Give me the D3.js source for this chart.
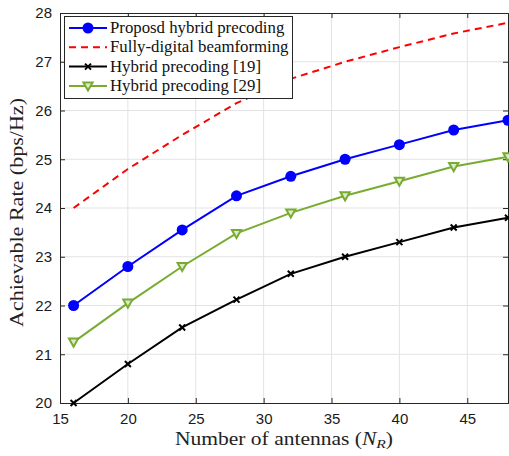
<!DOCTYPE html>
<html>
<head>
<meta charset="utf-8">
<script src="https://cdn.jsdelivr.net/npm/d3@7"></script>
<style>
  html, body { margin: 0; padding: 0; background: #fff; }
  svg { display: block; }
</style>
</head>
<body>
<svg id="chart" width="509" height="456"></svg>
<script>
// Antenna counts on the x axis
const antennas = [16, 20, 24, 28, 32, 36, 40, 44, 48];

// Achievable rate (bps/Hz) per scheme
const proposedRate = [22.0, 22.8, 23.55, 24.25, 24.65, 25.0, 25.3, 25.6, 25.8];
const fullyDigitalRate = [24.0, 24.8, 25.5, 26.15, 26.65, 27.0, 27.3, 27.58, 27.8];
const hybrid19Rate = [20.0, 20.8, 21.55, 22.12, 22.65, 23.0, 23.3, 23.6, 23.8];
const hybrid29Rate = [21.25, 22.05, 22.8, 23.48, 23.9, 24.25, 24.55, 24.85, 25.05];

const seriesNames = [
  "Proposd hybrid precoding",
  "Fully-digital beamforming",
  "Hybrid precoding [19]",
  "Hybrid precoding [29]"
];

const xTicks = [15, 20, 25, 30, 35, 40, 45];
const yTicks = [20, 21, 22, 23, 24, 25, 26, 27, 28];

const series = [
  { name: seriesNames[0], values: proposedRate, color: "#0000ff", marker: "circle" },
  { name: seriesNames[1], values: fullyDigitalRate, color: "#ff0000", marker: "none", dash: "7,5" },
  { name: seriesNames[2], values: hybrid19Rate, color: "#000000", marker: "cross" },
  { name: seriesNames[3], values: hybrid29Rate, color: "#77ac30", marker: "triangle" }
];

const svg = d3.select("#chart");
const plot = { left: 60, right: 508, top: 13, bottom: 403 };

const x = d3.scaleLinear().domain([15, 48]).range([plot.left, plot.right]);
const y = d3.scaleLinear().domain([20, 28]).range([plot.bottom, plot.top]);

const axisColor = "#262626";
const sansFont = "'Liberation Sans', Arial, sans-serif";
const serifFont = "'Liberation Serif', 'Times New Roman', serif";

// Grid
const grid = svg.append("g");
grid.selectAll("line.gx").data(xTicks.filter(d => d > 15)).enter().append("line")
  .attr("x1", d => x(d)).attr("x2", d => x(d))
  .attr("y1", plot.top).attr("y2", plot.bottom)
  .attr("stroke", "#e3e3e3").attr("stroke-width", 1);
grid.selectAll("line.gy").data(yTicks.filter(d => d > 20 && d < 28)).enter().append("line")
  .attr("x1", plot.left).attr("x2", plot.right)
  .attr("y1", d => y(d)).attr("y2", d => y(d))
  .attr("stroke", "#e3e3e3").attr("stroke-width", 1);

// Axes (inward ticks on all four sides)
const tickLen = 5;
const bottomAxis = svg.append("g").attr("transform", `translate(0,${plot.bottom})`)
  .call(d3.axisBottom(x).tickValues(xTicks).tickSize(-tickLen).tickPadding(10));
const topAxis = svg.append("g").attr("transform", `translate(0,${plot.top})`)
  .call(d3.axisTop(x).tickValues(xTicks).tickSize(-tickLen).tickFormat(""));
const leftAxis = svg.append("g").attr("transform", `translate(${plot.left},0)`)
  .call(d3.axisLeft(y).tickValues(yTicks).tickSize(-tickLen).tickPadding(8));
const rightAxis = svg.append("g").attr("transform", `translate(${plot.right},0)`)
  .call(d3.axisRight(y).tickValues(yTicks).tickSize(-tickLen).tickFormat(""));

[bottomAxis, topAxis, leftAxis, rightAxis].forEach(g => {
  g.select(".domain").attr("stroke", axisColor).attr("stroke-width", 1);
  g.selectAll(".tick line").attr("stroke", axisColor);
  g.selectAll(".tick text").attr("fill", "#1a1a1a")
    .style("font-family", sansFont).style("font-size", "15px");
});

// Series lines and markers
const line = d3.line().x((d, i) => x(antennas[i])).y(d => y(d));

series.forEach(s => {
  svg.append("path")
    .datum(s.values)
    .attr("d", line)
    .attr("fill", "none")
    .attr("stroke", s.color)
    .attr("stroke-width", 2)
    .attr("stroke-dasharray", s.dash || null);
});

function drawMarker(g, type, cx, cy, color) {
  if (type === "circle") {
    g.append("circle").attr("cx", cx).attr("cy", cy).attr("r", 5.5).attr("fill", color);
  } else if (type === "cross") {
    const r = 3;
    g.append("path")
      .attr("d", `M${cx - r},${cy - r}L${cx + r},${cy + r}M${cx - r},${cy + r}L${cx + r},${cy - r}`)
      .attr("stroke", color).attr("stroke-width", 2).attr("fill", "none");
  } else if (type === "triangle") {
    const w = 4.6, h = 4.6;
    g.append("path")
      .attr("d", `M${cx - w},${cy - h * 0.75}L${cx + w},${cy - h * 0.75}L${cx},${cy + h}Z`)
      .attr("stroke", color).attr("stroke-width", 2).attr("fill", "#dfe9cf");
  }
}

series.forEach(s => {
  if (s.marker === "none") return;
  const g = svg.append("g");
  s.values.forEach((v, i) => drawMarker(g, s.marker, x(antennas[i]), y(v), s.color));
});

// Legend
const legend = svg.append("g");
legend.append("rect")
  .attr("x", 64.5).attr("y", 16.5).attr("width", 228).attr("height", 82)
  .attr("fill", "#fff").attr("stroke", axisColor).attr("stroke-width", 1);

series.forEach((s, i) => {
  const ly = 28 + i * 19.3;
  legend.append("line")
    .attr("x1", 69).attr("x2", 107).attr("y1", ly).attr("y2", ly)
    .attr("stroke", s.color).attr("stroke-width", 2)
    .attr("stroke-dasharray", s.dash || null);
  if (s.marker !== "none") drawMarker(legend, s.marker, 88, ly, s.color);
  legend.append("text")
    .attr("x", 110).attr("y", ly + 5)
    .attr("fill", "#111")
    .style("font-family", serifFont).style("font-size", "16.8px")
    .text(s.name);
});

// Axis titles
const xTitle = svg.append("text")
  .attr("x", 284).attr("y", 445)
  .attr("text-anchor", "middle")
  .attr("textLength", 218)
  .attr("lengthAdjust", "spacingAndGlyphs")
  .attr("fill", "#222")
  .style("font-family", serifFont).style("font-size", "18px");
xTitle.append("tspan").text("Number of antennas (");
xTitle.append("tspan").style("font-style", "italic").text("N");
xTitle.append("tspan").style("font-style", "italic").style("font-size", "13px").attr("dy", 3).text("R");
xTitle.append("tspan").attr("dy", -3).text(")");

svg.append("text")
  .attr("transform", `translate(23,${212.5}) rotate(-90)`)
  .attr("text-anchor", "middle")
  .attr("textLength", 229)
  .attr("lengthAdjust", "spacingAndGlyphs")
  .attr("fill", "#222")
  .style("font-family", serifFont).style("font-size", "18px")
  .text("Achievable Rate (bps/Hz)");
</script>
</body>
</html>
